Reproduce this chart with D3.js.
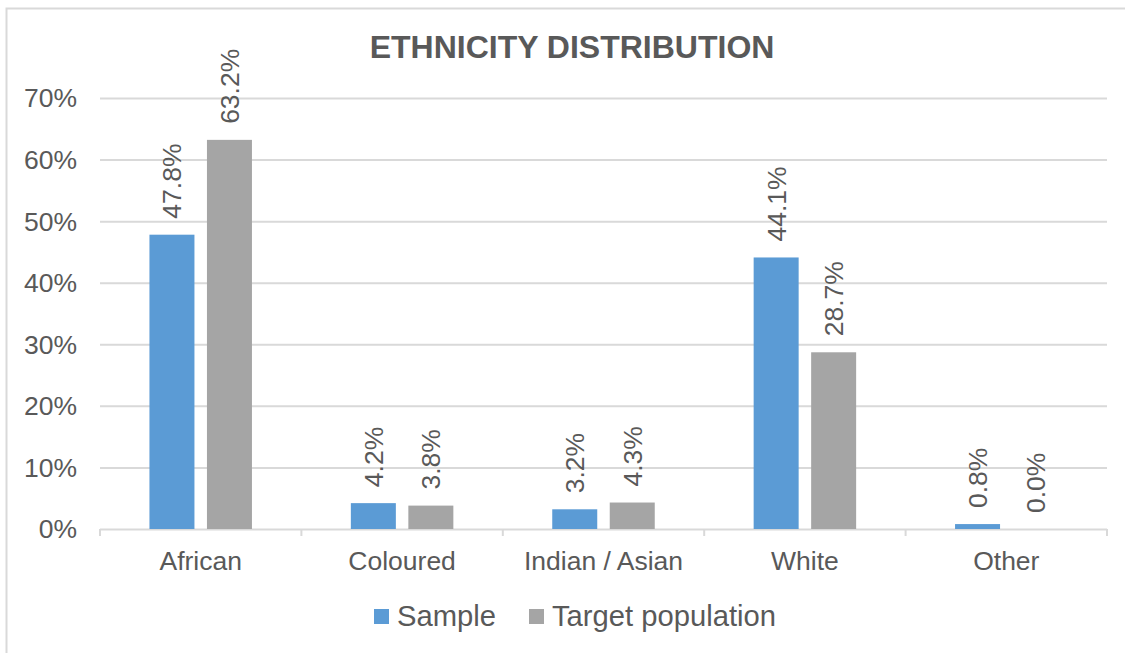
<!DOCTYPE html>
<html>
<head>
<meta charset="utf-8">
<script src="https://cdn.jsdelivr.net/npm/d3@7"></script>
<style>
  html, body { margin: 0; padding: 0; background: #fff; }
  svg { display: block; font-family: "Liberation Sans", Arial, sans-serif; }
</style>
</head>
<body>
<svg id="chart" width="1125" height="653"></svg>
<script>
// Ethnicity shares (%) of the sample versus the target population
const categories = ["African", "Coloured", "Indian / Asian", "White", "Other"];
const seriesNames = ["Sample", "Target population"];
const sampleValues = [47.8, 4.2, 3.2, 44.1, 0.8];
const targetValues = [63.2, 3.8, 4.3, 28.7, 0.0];
const yTicks = [0, 10, 20, 30, 40, 50, 60, 70];

const colors = ["#5b9bd5", "#a5a5a5"];
const textColor = "#595959";
const gridColor = "#d9d9d9";

const svg = d3.select("#chart");

// outer chart frame
svg.append("rect")
  .attr("x", 6.5).attr("y", 8.5)
  .attr("width", 1140).attr("height", 670)
  .attr("fill", "none").attr("stroke", gridColor).attr("stroke-width", 2);

const plot = { left: 100, right: 1107, top: 98, bottom: 529 };

const x = d3.scaleBand().domain(categories)
  .range([plot.left, plot.right]).paddingInner(0).paddingOuter(0);
const y = d3.scaleLinear().domain([0, 70]).range([plot.bottom, plot.top]);

const barW = 45, barGap = 12.5;
const xSub = d3.scaleBand().domain(seriesNames)
  .range([0, barW * 2 + barGap]).paddingInner(barGap / (barW + barGap));

// title
svg.append("text")
  .attr("x", 572).attr("y", 58)
  .attr("text-anchor", "middle")
  .attr("font-size", 32).attr("font-weight", "bold")
  .attr("fill", textColor)
  .text("ETHNICITY DISTRIBUTION");

// gridlines
svg.append("g").selectAll("line")
  .data(yTicks.filter(t => t > 0))
  .join("line")
  .attr("x1", plot.left).attr("x2", plot.right)
  .attr("y1", d => y(d) + 0.5).attr("y2", d => y(d) + 0.5)
  .attr("stroke", gridColor).attr("stroke-width", 2);

// y axis labels
const yAxis = d3.axisLeft(y).tickValues(yTicks)
  .tickFormat(d => d + "%").tickSize(0).tickPadding(23);
const gy = svg.append("g").attr("transform", `translate(${plot.left},0.5)`).call(yAxis);
gy.select(".domain").remove();
gy.selectAll("text")
  .attr("font-family", "Liberation Sans, Arial, sans-serif")
  .attr("font-size", 26.5).attr("fill", textColor);

// x axis: baseline with category-boundary ticks
const gx = svg.append("g");
gx.append("line")
  .attr("x1", plot.left).attr("x2", plot.right)
  .attr("y1", plot.bottom + 0.5).attr("y2", plot.bottom + 0.5)
  .attr("stroke", gridColor).attr("stroke-width", 2);
const bounds = categories.map(c => x(c)).concat([x(categories[categories.length - 1]) + x.bandwidth()]);
gx.selectAll("line.tick")
  .data(bounds)
  .join("line").attr("class", "tick")
  .attr("x1", d => d).attr("x2", d => d)
  .attr("y1", plot.bottom).attr("y2", plot.bottom + 7)
  .attr("stroke", gridColor).attr("stroke-width", 2);
gx.selectAll("text")
  .data(categories)
  .join("text")
  .attr("x", d => x(d) + x.bandwidth() / 2)
  .attr("y", 570)
  .attr("text-anchor", "middle")
  .attr("font-size", 26.5).attr("fill", textColor)
  .text(d => d);

// bars and value labels
const rows = categories.map((c, i) => ({
  category: c,
  values: [
    { series: seriesNames[0], value: sampleValues[i] },
    { series: seriesNames[1], value: targetValues[i] }
  ]
}));

const groups = svg.append("g").selectAll("g")
  .data(rows)
  .join("g")
  .attr("transform", d => `translate(${x(d.category) + (x.bandwidth() - (barW * 2 + barGap)) / 2},0)`);

groups.selectAll("rect")
  .data(d => d.values)
  .join("rect")
  .attr("x", d => xSub(d.series))
  .attr("width", xSub.bandwidth())
  .attr("y", d => y(d.value))
  .attr("height", d => y(0) - y(d.value))
  .attr("fill", (d, i) => colors[i]);

groups.selectAll("text")
  .data(d => d.values)
  .join("text")
  .attr("transform", d => `translate(${xSub(d.series) + xSub.bandwidth() / 2},${y(d.value) - 16}) rotate(-90)`)
  .attr("dy", "0.36em")
  .attr("font-size", 26.5).attr("fill", textColor)
  .text(d => d.value.toFixed(1) + "%");

// legend
const legendItems = [
  { name: seriesNames[0], x: 374 },
  { name: seriesNames[1], x: 529 }
];
const lg = svg.append("g").selectAll("g")
  .data(legendItems)
  .join("g")
  .attr("transform", d => `translate(${d.x},0)`);
lg.append("rect")
  .attr("x", 0).attr("y", 609)
  .attr("width", 15).attr("height", 15)
  .attr("fill", (d, i) => colors[i]);
lg.append("text")
  .attr("x", 23).attr("y", 626)
  .attr("font-size", 29.2).attr("fill", textColor)
  .text(d => d.name);
</script>
</body>
</html>
